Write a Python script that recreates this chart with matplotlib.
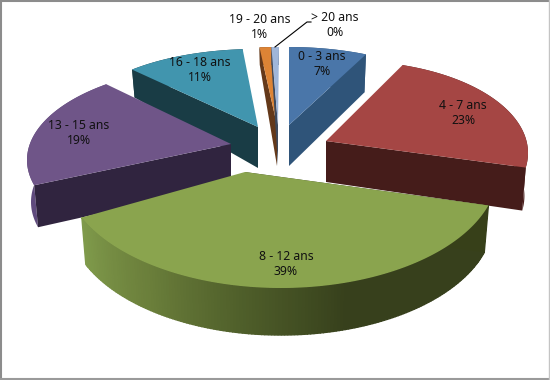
import numpy as np
import matplotlib
matplotlib.use("Agg")
import matplotlib.pyplot as plt
from matplotlib.colors import to_rgb
from matplotlib.patches import Polygon

# tranches d'age et parts
categories = ["0 - 3 ans", "4 - 7 ans", "8 - 12 ans", "13 - 15 ans", "16 - 18 ans", "19 - 20 ans", "> 20 ans"]
valeurs = [7, 22.8, 38.8, 19, 11, 1.1, 0.45]

# mise en page en pixels : centre, rayons, rotation, sommet, hauteur au sommet et au bord, coupe visible
geo = [
    dict(c=(289, 125), r=(181, 78), rot=0, apex=(289, 125), h=41, hb=38, cote="fin"),
    dict(c=(350, 153), r=(178, 92), rot=-8, apex=(326, 141), h=41, hb=43, cote="fin"),
    dict(c=(281, 171), r=(217, 117), rot=0, apex=(245, 172), h=47, hb=47, cote="debut"),
    dict(c=(227, 160), r=(200, 95), rot=8, apex=(231, 144), h=40, hb=42, cote="debut"),
    dict(c=(256, 123), r=(179, 74), rot=1.3, apex=(258, 127), h=41, hb=28, cote="debut"),
    dict(c=(277, 125), r=(180, 78), rot=0, apex=(277, 125), h=41, hb=18, cote="debut"),
    dict(c=(279, 125), r=(270, 78), rot=0, apex=(278, 125), h=41, hb=18, cote="debut"),
]
dessus = ["#4a76a9", "#a54644", "#8aa44e", "#6f5588", "#4195ae", "#dd8435", "#a0b6d9"]
paroi = ["#2f5479", "#451c1a", "#374019", "#30243f", "#193c45", "#64391a", "#3f4a5c"]
bord = ["#2f5479", "#4c1f1d", "#374019", "#5f4a7d", "#193c45", "#64391a", "#3f4a5c"]
degrade_vert = ["#7f9a4b", "#6b7f3b", "#4f5f2a", "#37401c", "#37401c", "#37401c"]
pos_labels = [(322, 64), (463, 113), (286, 264), (79, 133), (200, 70), (260, 27), (335, 25)]
ordre = [4, 5, 6, 0, 3, 1, 2]
retrait = 0.98  # le bas des parts est un peu plus loin de l'oeil

fig = plt.figure(figsize=(5.5, 3.8), dpi=100)
ax = fig.add_axes([0, 0, 1, 1])
ax.set_xlim(0, 550)
ax.set_ylim(380, 0)
ax.axis("off")

total = sum(valeurs)
bornes = np.concatenate([[0], np.cumsum(valeurs)]) / total * 360


def arc(g, t0, t1, n=160):
    t = np.radians(np.linspace(t0, t1, n) + g["rot"])
    return g["c"][0] + g["r"][0] * np.sin(t), g["c"][1] - g["r"][1] * np.cos(t)


for i in ordre:
    g = geo[i]
    t0, t1 = bornes[i], bornes[i + 1]
    x, y = arc(g, t0, t1)
    xb = g["c"][0] + (x - g["c"][0]) * retrait
    yb = y + g["hb"]
    # paroi exterieure
    if i == 2:
        # degrade du vert, de gauche a droite
        stops = np.linspace(0, 1, len(degrade_vert))
        rgb = np.array([to_rgb(c) for c in degrade_vert])
        for k in range(len(x) - 1):
            u = 1 - k / (len(x) - 2)
            col = [np.interp(u, stops, rgb[:, j]) for j in range(3)]
            pts = [(x[k], y[k]), (x[k + 1], y[k + 1]), (xb[k + 1], yb[k + 1]), (xb[k], yb[k])]
            ax.add_patch(Polygon(pts, closed=True, fc=col, ec=col, lw=1))
    else:
        pts = list(zip(x, y)) + list(zip(xb[::-1], yb[::-1]))
        ax.add_patch(Polygon(pts, closed=True, fc=bord[i], ec="none"))
    # paroi de coupe, du cote vu par l'observateur
    j = -1 if g["cote"] == "fin" else 0
    ax_, ay_ = g["apex"]
    ax.add_patch(Polygon([(ax_, ay_), (x[j], y[j]), (xb[j], yb[j]), (ax_, ay_ + g["h"])],
                         closed=True, fc=paroi[i], ec="none"))
    # dessus
    ax.add_patch(Polygon([(ax_, ay_)] + list(zip(x, y)), closed=True, fc=dessus[i], ec="none"))

for i, nom in enumerate(categories):
    pct = round(valeurs[i] / total * 100)
    ax.text(pos_labels[i][0], pos_labels[i][1], "%s\n%d%%" % (nom, pct), ha="center", va="center",
            fontsize=8.8, family="Noto Sans", color="#111111", linespacing=1.2)

# trait de rappel du dernier label
ax.plot([275, 307, 311], [47, 22, 22], color="black", lw=0.8)

# cadre gris
ax.plot([1, 549], [1, 1], color="#8c8c8c", lw=1.5)
ax.plot([1, 1], [0, 380], color="#8c8c8c", lw=1.5)
ax.plot([0, 550], [379, 379], color="#9a9a9a", lw=1.5)
ax.plot([549, 549], [0, 380], color="#c4c4c4", lw=1)

fig.savefig("out.png", dpi=100)
